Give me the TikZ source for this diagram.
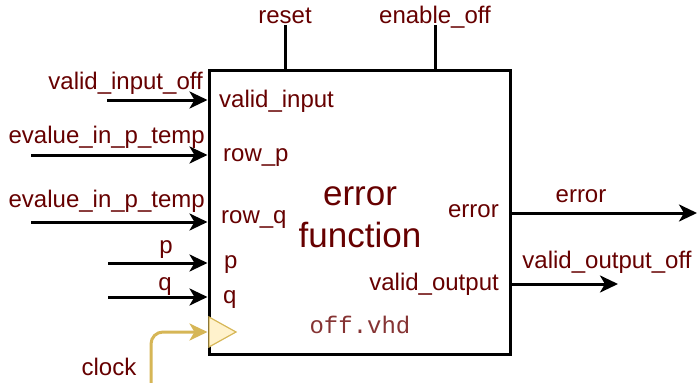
\documentclass[tikz,border=0pt]{standalone}
\usepackage{fontspec}
\setmainfont{Liberation Sans}
\newfontfamily\codefont{Liberation Mono}
\usetikzlibrary{arrows.meta}
\definecolor{txt}{HTML}{660000}
\definecolor{clk}{HTML}{D6B656}
\definecolor{clkfill}{HTML}{FFF2CC}
\tikzset{
  tip/.tip={Stealth[length=18pt,width=17pt,inset=5pt]},
  sig/.style={line width=3pt, -tip},
  lbl/.style={inner sep=0pt, text=txt, font=\fontsize{24}{28}\selectfont},
  wire/.style={line width=3pt},
}
\begin{document}
\begin{tikzpicture}[x=1pt,y=-1pt]
\useasboundingbox (0,0) rectangle (697,383);

% block body
\node[draw, line width=3pt, minimum width=301pt, minimum height=284pt, inner sep=0pt] (fn) at (359.5,212) {};

% port coordinates on the block
\coordinate (pvi) at (fn.west |- 0,100);
\coordinate (prp) at (fn.west |- 0,155);
\coordinate (prq) at (fn.west |- 0,222);
\coordinate (pp)  at (fn.west |- 0,263);
\coordinate (pq)  at (fn.west |- 0,297);
\coordinate (pck) at (fn.west |- 0,332);
\coordinate (perr) at (fn.east |- 0,213);
\coordinate (pvo) at (fn.east |- 0,284);
\coordinate (prst) at (285,0 |- fn.north);
\coordinate (pen)  at (435,0 |- fn.north);

% free ends of the connectors
\coordinate (svi) at (107,100);
\coordinate (srp) at (31,155);
\coordinate (srq) at (31,222);
\coordinate (sp)  at (108,263);
\coordinate (sq)  at (108,297);
\coordinate (sck) at (151,383);
\coordinate (eerr) at (697,213);
\coordinate (evo) at (618,284);
\coordinate (trst) at (285,25);
\coordinate (ten)  at (435,25);

% top wires
\draw[wire] (prst) -- (trst);
\draw[wire] (pen) -- (ten);

% inputs
\draw[sig] (svi) -- (pvi);
\draw[sig] (srp) -- (prp);
\draw[sig] (srq) -- (prq);
\draw[sig] (sp) -- (pp);
\draw[sig] (sq) -- (pq);

% outputs
\draw[sig] (perr) -- (eerr);
\draw[sig] (pvo) -- (evo);

% clock wire and clock marker
\draw[line width=3pt, clk, rounded corners=12pt, -tip]
  (sck) -- (151,332) -- (pck);
\draw[clk, fill=clkfill, line width=1.2pt] (209,317) -- (236,332) -- (209,347) -- cycle;

% outer signal labels
\node[lbl, anchor=base] (lrst) at (285,23) {reset};
\node[lbl, anchor=base] (len) at (435,23) {enable\_off};
\node[lbl, anchor=base east] (lvi) at (203,89) {valid\_input\_off};
\node[lbl, anchor=base east] (lrp) at (205,143) {evalue\_in\_p\_temp};
\node[lbl, anchor=base east] (lrq) at (205,207) {evalue\_in\_p\_temp};
\node[lbl, anchor=base] (lp) at (166,253) {p};
\node[lbl, anchor=base] (lq) at (165,290) {q};
\node[lbl, anchor=base] (lck) at (109,375) {clock};
\node[lbl, anchor=base] (lerr) at (581,202) {error};
\node[lbl, anchor=base] (lvo) at (607,268) {valid\_output\_off};

% port names inside the block
\node[lbl, anchor=base west] (ivi) at (219,107) {valid\_input};
\node[lbl, anchor=base west] (irp) at (223,161) {row\_p};
\node[lbl, anchor=base west] (irq) at (221,223) {row\_q};
\node[lbl, anchor=base west] (ip) at (224,268) {p};
\node[lbl, anchor=base west] (iq) at (223,303) {q};
\node[lbl, anchor=base east] (ierr) at (499,217) {error};
\node[lbl, anchor=base east] (ivo) at (499,290) {valid\_output};

% block title and source file
\node[lbl, anchor=base, font=\fontsize{35}{40}\selectfont] (t1) at (360,205) {error};
\node[lbl, anchor=base, font=\fontsize{35}{40}\selectfont] (t2) at (360,247) {function};
\node[lbl, anchor=base, font=\fontsize{24}{28}\codefont, text=txt!80] (src) at (360,333) {off.vhd};
\end{tikzpicture}
\end{document}
